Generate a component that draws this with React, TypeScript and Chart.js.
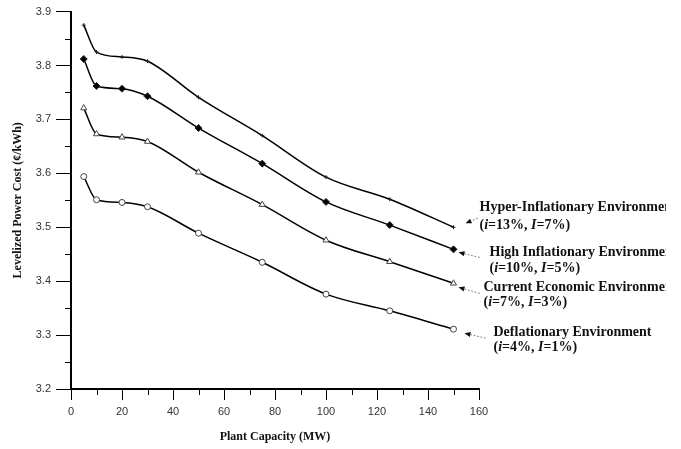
import React, { useEffect, useRef } from 'react';
import { Chart, registerables } from 'chart.js';

Chart.register(...registerables);

const capacities = [5, 10, 20, 30, 50, 75, 100, 125, 150];
const hyperInflationary = [3.875, 3.825, 3.816, 3.808, 3.741, 3.670, 3.593, 3.552, 3.500];
const highInflationary = [3.812, 3.762, 3.757, 3.743, 3.684, 3.618, 3.547, 3.504, 3.459];
const currentEconomic = [3.721, 3.673, 3.667, 3.659, 3.602, 3.542, 3.476, 3.436, 3.396];
const deflationary = [3.594, 3.551, 3.546, 3.538, 3.489, 3.435, 3.376, 3.345, 3.311];

const seriesNames = [
  'Hyper-Inflationary Environment',
  'High Inflationary Environment',
  'Current Economic Environment',
  'Deflationary Environment',
];
const interestRates = ['13%', '10%', '7%', '4%'];
const inflationRates = ['7%', '5%', '3%', '1%'];

const xMin = 0;
const xMax = 160;
const xStep = 20;
const yMin = 3.2;
const yMax = 3.9;
const yStep = 0.1;

const xTitle = 'Plant Capacity (MW)';
const yTitle = 'Levelized Power Cost (¢/kWh)';

// annotation layout offsets relative to the last point of each series (pixels)
const annotLayout = [
  { tip: [12, -4], tail: [24, -9], text: [26, -20], text2: [26, -2] },
  { tip: [5, 3], tail: [26, 8], text: [36, 3], text2: [36, 19] },
  { tip: [5, 4], tail: [26, 10], text: [30, 4], text2: [30, 19] },
  { tip: [11, 4], tail: [32, 9], text: [40, 3], text2: [40, 18] },
];
const annotClipRight = 666;

const serif = '"Liberation Serif", "Times New Roman", serif';

const annotationPlugin = {
  id: 'envAnnotations',
  afterDatasetsDraw(chart: any) {
    const ctx = chart.ctx as CanvasRenderingContext2D;
    chart.data.datasets.forEach((_ds: any, i: number) => {
      const meta = chart.getDatasetMeta(i);
      const last = meta.data[meta.data.length - 1];
      const L = annotLayout[i];
      const tipX = last.x + L.tip[0];
      const tipY = last.y + L.tip[1];
      const tailX = last.x + L.tail[0];
      const tailY = last.y + L.tail[1];
      const ang = Math.atan2(tipY - tailY, tipX - tailX);
      ctx.save();
      ctx.strokeStyle = '#666';
      ctx.lineWidth = 1;
      ctx.setLineDash([1.5, 2]);
      ctx.beginPath();
      ctx.moveTo(tailX, tailY);
      ctx.lineTo(tipX - 4 * Math.cos(ang), tipY - 4 * Math.sin(ang));
      ctx.stroke();
      ctx.setLineDash([]);
      ctx.fillStyle = '#111';
      ctx.beginPath();
      ctx.moveTo(tipX, tipY);
      ctx.lineTo(tipX - 6 * Math.cos(ang) + 2.5 * Math.sin(ang), tipY - 6 * Math.sin(ang) - 2.5 * Math.cos(ang));
      ctx.lineTo(tipX - 6 * Math.cos(ang) - 2.5 * Math.sin(ang), tipY - 6 * Math.sin(ang) + 2.5 * Math.cos(ang));
      ctx.closePath();
      ctx.fill();
      ctx.beginPath();
      ctx.rect(0, 0, annotClipRight, chart.height);
      ctx.clip();
      ctx.fillStyle = '#111';
      ctx.textBaseline = 'middle';
      ctx.textAlign = 'left';
      ctx.font = `bold 14px ${serif}`;
      ctx.fillText(seriesNames[i], last.x + L.text[0], last.y + L.text[1]);
      const segs: [string, boolean][] = [
        ['(', false],
        ['i', true],
        [`=${interestRates[i]}, `, false],
        ['I', true],
        [`=${inflationRates[i]})`, false],
      ];
      let x = last.x + L.text2[0];
      const y = last.y + L.text2[1];
      segs.forEach(([t, it]) => {
        ctx.font = `${it ? 'italic ' : ''}bold 14px ${serif}`;
        ctx.fillText(t, x, y);
        x += ctx.measureText(t).width;
      });
      ctx.restore();
    });
  },
};

const minorTicksPlugin = {
  id: 'minorTicks',
  afterDraw(chart: any) {
    const ctx = chart.ctx as CanvasRenderingContext2D;
    const xs = chart.scales.x;
    const ys = chart.scales.y;
    const { left, bottom } = chart.chartArea;
    ctx.save();
    ctx.strokeStyle = '#000';
    ctx.lineWidth = 1;
    ctx.beginPath();
    for (let v = xMin + xStep / 2; v < xMax; v += xStep) {
      const px = Math.round(xs.getPixelForValue(v)) + 0.5;
      ctx.moveTo(px, bottom);
      ctx.lineTo(px, bottom + 6);
    }
    for (let k = 0; k < Math.round((yMax - yMin) / yStep); k++) {
      const v = yMin + yStep * k + yStep / 2;
      const py = Math.round(ys.getPixelForValue(v)) + 0.5;
      ctx.moveTo(left - 6, py);
      ctx.lineTo(left, py);
    }
    ctx.stroke();
    ctx.restore();
  },
};

const whiteBg = {
  id: 'whiteBg',
  beforeDraw(chart: any) {
    const ctx = chart.ctx;
    ctx.save();
    ctx.fillStyle = '#fff';
    ctx.fillRect(0, 0, chart.width, chart.height);
    ctx.restore();
  },
};

export default function App() {
  const ref = useRef<HTMLCanvasElement | null>(null);
  useEffect(() => {
    if (!ref.current) return;
    const mk = (data: number[]) => capacities.map((c, i) => ({ x: c, y: data[i] }));
    const common = {
      borderColor: '#000',
      borderWidth: 1.5,
      cubicInterpolationMode: 'monotone' as const,
      pointBorderWidth: 1,
      pointBorderColor: '#222',
    };
    const chart = new Chart(ref.current, {
      type: 'line',
      data: {
        datasets: [
          { ...common, label: seriesNames[0], data: mk(hyperInflationary), pointStyle: 'cross', pointRadius: 2, pointBackgroundColor: '#000' },
          { ...common, label: seriesNames[1], data: mk(highInflationary), pointStyle: 'rectRot', pointRadius: 3.5, pointBackgroundColor: '#000' },
          { ...common, label: seriesNames[2], data: mk(currentEconomic), pointStyle: 'triangle', pointRadius: 3.5, pointBackgroundColor: '#fff', pointBorderColor: '#444' },
          { ...common, label: seriesNames[3], data: mk(deflationary), pointStyle: 'circle', pointRadius: 3, pointBackgroundColor: '#fff', pointBorderColor: '#444' },
        ],
      },
      options: {
        responsive: false,
        animation: false,
        devicePixelRatio: 1,
        layout: { padding: { top: 11, right: 202, bottom: 0, left: 0 } },
        plugins: { legend: { display: false }, tooltip: { enabled: false } },
        scales: {
          x: {
            type: 'linear',
            min: xMin,
            max: xMax,
            afterFit: (s: any) => { s.height = 60; },
            ticks: { stepSize: xStep, color: '#333', font: { family: '"Liberation Sans", Arial, sans-serif', size: 11 }, padding: 5 },
            grid: { drawOnChartArea: false, tickLength: 11, color: '#000', tickWidth: 1 },
            border: { color: '#000', width: 2 },
            title: { display: true, text: xTitle, color: '#111', font: { family: serif, size: 12, weight: 'bold' }, padding: { top: 0, bottom: 5 } },
          },
          y: {
            type: 'linear',
            min: yMin,
            max: yMax,
            afterFit: (s: any) => { s.width = 71; },
            ticks: { stepSize: yStep, color: '#333', font: { family: '"Liberation Sans", Arial, sans-serif', size: 11 }, padding: 5, callback: (v: any) => Number(v).toFixed(1) },
            grid: { drawOnChartArea: false, tickLength: 15, color: '#000', tickWidth: 1 },
            border: { color: '#000', width: 2 },
            title: { display: true, text: yTitle, color: '#111', font: { family: serif, size: 12, weight: 'bold' }, padding: { top: 11, bottom: 0 } },
          },
        },
      },
      plugins: [whiteBg, minorTicksPlugin, annotationPlugin],
    });
    return () => chart.destroy();
  }, []);
  return (
    <div style={{ position: 'absolute', left: 0, top: 0, width: 681, height: 449, background: '#fff' }}>
      <canvas ref={ref} width={681} height={449} />
    </div>
  );
}
